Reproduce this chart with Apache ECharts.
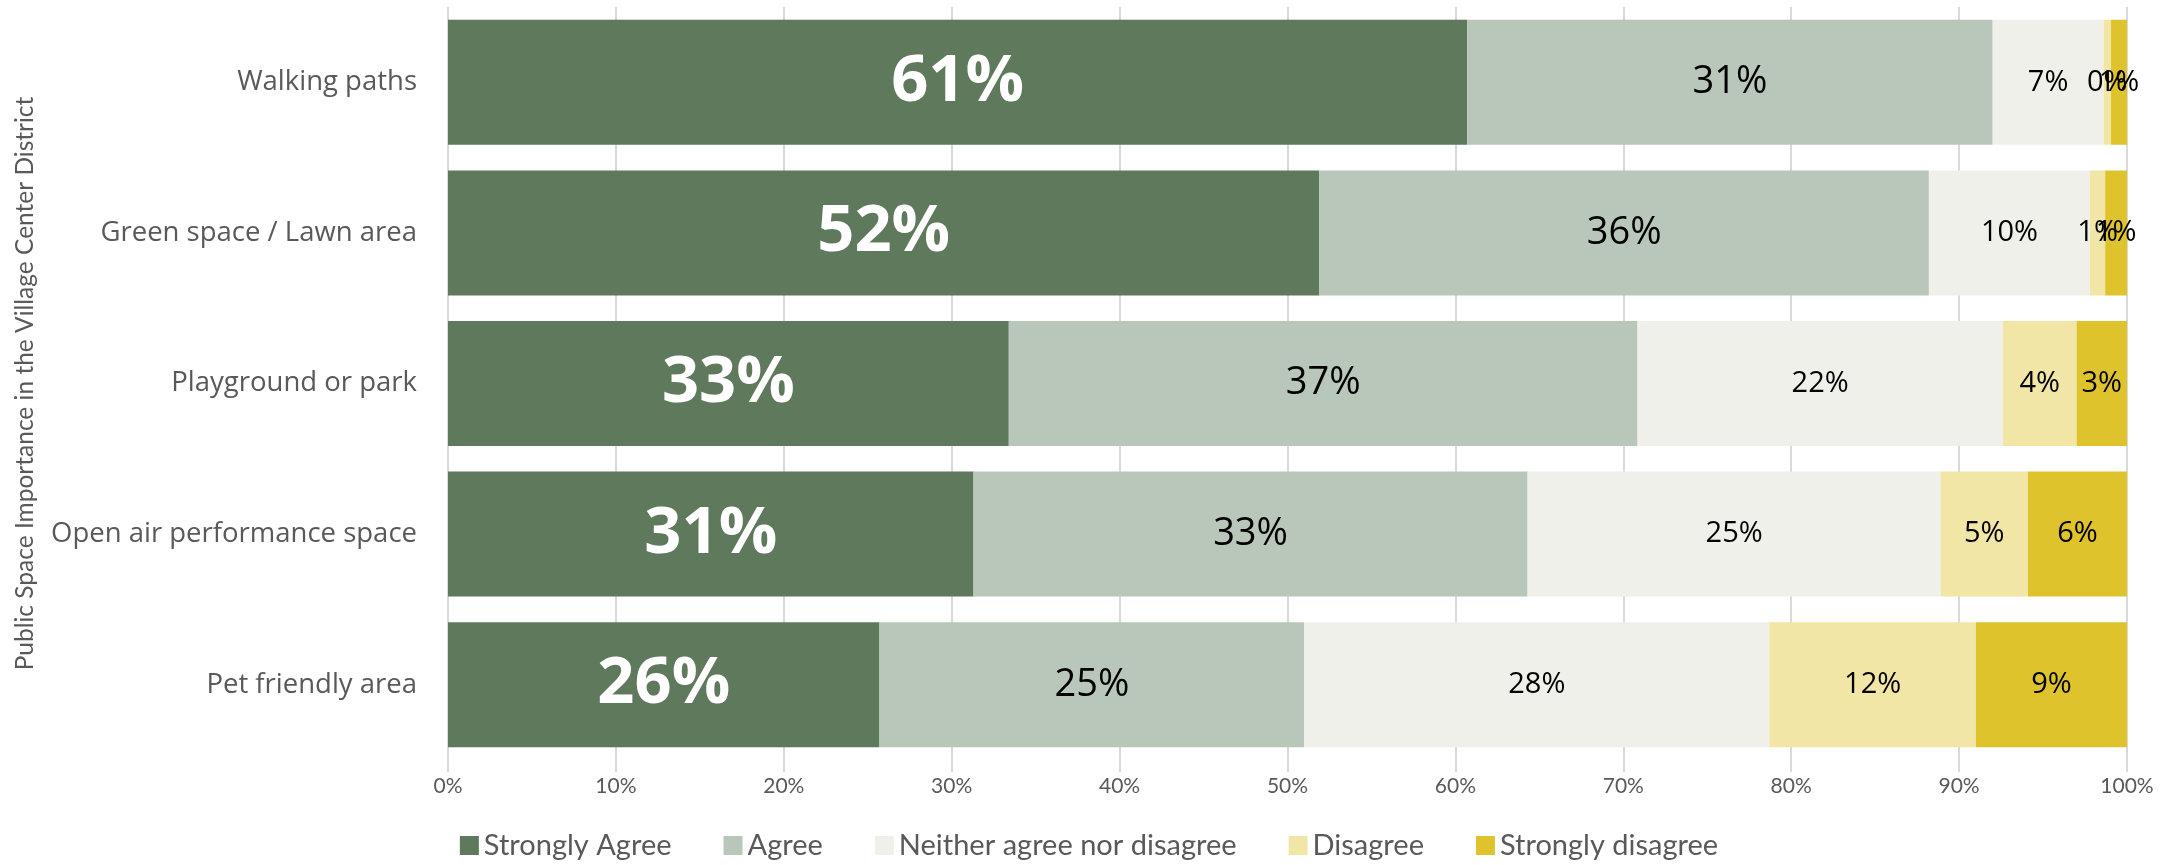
<!DOCTYPE html>
<html>
<head>
<meta charset="utf-8">
<script src="https://cdn.jsdelivr.net/npm/echarts@6/dist/echarts.min.js"></script>
<style>
  html, body { margin: 0; padding: 0; background: #ffffff; }
  #chart { width: 2178px; height: 865px; }
</style>
</head>
<body>
<div id="chart"></div>
<script>
// Survey categories, listed top to bottom
const categories = [
  'Walking paths',
  'Green space / Lawn area',
  'Playground or park',
  'Open air performance space',
  'Pet friendly area'
];

// Share of responses per answer (percent)
const stronglyAgree    = [60.7, 51.9, 33.4, 31.3, 25.7];
const agree            = [31.3, 36.3, 37.45, 33.0, 25.3];
const neither          = [6.6, 9.6, 21.75, 24.6, 27.7];
const disagree         = [0.45, 0.9, 4.4, 5.2, 12.3];
const stronglyDisagree = [0.95, 1.3, 3.0, 5.9, 9.0];

const seriesNames = ['Strongly Agree', 'Agree', 'Neither agree nor disagree', 'Disagree', 'Strongly disagree'];
const xTicks = [0, 10, 20, 30, 40, 50, 60, 70, 80, 90, 100];

const colors = ['#5f795d', '#b8c7b9', '#f0f0eb', '#f2e6a6', '#dfc32c'];
const seriesData = [stronglyAgree, agree, neither, disagree, stronglyDisagree];
const labelStyles = [
  { color: '#ffffff', fontSize: 65, fontWeight: 'bold', fontFamily: 'Open Sans' },
  { color: '#000000', fontSize: 38, fontFamily: 'Open Sans' },
  { color: '#000000', fontSize: 29, fontFamily: 'Open Sans' },
  { color: '#000000', fontSize: 29, fontFamily: 'Open Sans' },
  { color: '#000000', fontSize: 29, fontFamily: 'Open Sans' }
];

const chart = echarts.init(document.getElementById('chart'), null, { renderer: 'canvas' });

const option = {
  animation: false,
  backgroundColor: '#ffffff',
  grid: { left: 448, right: 51, top: 7, bottom: 105, containLabel: false },
  legend: {
    data: seriesNames,
    bottom: 0,
    left: 'center',
    itemWidth: 19,
    itemHeight: 19,
    itemGap: 52,
    icon: 'rect',
    textStyle: { fontFamily: 'Lato', fontSize: 29, color: '#595959' }
  },
  xAxis: {
    type: 'value',
    min: 0,
    max: 100,
    interval: 10,
    axisLine: { show: false },
    axisTick: { show: true, length: 12, lineStyle: { color: '#d9d9d9', width: 2 } },
    splitLine: { show: true, lineStyle: { color: '#d9d9d9', width: 2 } },
    axisLabel: {
      margin: 16,
      fontFamily: 'Lato',
      fontSize: 21,
      color: '#595959',
      formatter: v => (xTicks.includes(v) ? v + '%' : '')
    }
  },
  yAxis: {
    type: 'category',
    data: categories,
    inverse: true,
    axisLine: { show: false },
    axisTick: { show: false },
    axisLabel: { margin: 31, fontFamily: 'Open Sans', fontSize: 27.5, color: '#595959' },
    name: 'Public Space Importance in the Village Center District',
    nameLocation: 'middle',
    nameRotate: 90,
    nameGap: 410,
    nameTextStyle: { fontFamily: 'Lato', fontSize: 24.5, color: '#595959' }
  },
  series: seriesNames.map((name, i) => ({
    name,
    type: 'bar',
    stack: 'total',
    barCategoryGap: '17%',
    data: seriesData[i],
    itemStyle: { color: colors[i] },
    label: {
      show: true,
      position: 'inside',
      formatter: p => Math.round(p.value) + '%',
      ...labelStyles[i]
    },
    emphasis: { disabled: true }
  }))
};

chart.setOption(option);
</script>
</body>
</html>
